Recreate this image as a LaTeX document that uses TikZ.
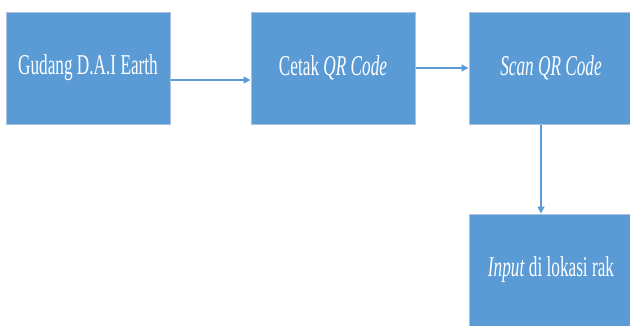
\documentclass[tikz,border=0pt]{standalone}
\usepackage{fontspec}
\setmainfont{Liberation Serif}[FakeStretch=0.6]
\usepackage{xcolor}
\usepackage{tikz}
\usetikzlibrary{positioning,arrows.meta}
\definecolor{boxblue}{HTML}{5B9BD5}
\definecolor{boxline}{HTML}{A9C1DE}

\begin{document}
\begin{tikzpicture}[x=1pt,y=-1pt,
    box/.style={draw=boxline, line width=1pt, fill=boxblue, text=white, minimum width=164pt, minimum height=112pt, inner sep=0pt, font=\fontsize{28.7}{30}\selectfont},
    arr/.style={draw=boxblue, line width=1.2pt, -{Triangle[length=7pt,width=7pt]}}]
    \useasboundingbox (0,0) rectangle (630,325);
    \node[box] (gudang) at (88,68) {Gudang D.A.I Earth};
    \node[box] (cetak) at (333,68) {Cetak \textit{QR Code}};
    \node[box] (scan) at (551,68) {\textit{Scan QR Code}};
    \node[box] (input) at (551,270) {\textit{Input} di lokasi rak};
    \draw[arr] ([yshift=-12pt]gudang.east) -- ([yshift=-12pt]cetak.west);
    \draw[arr] (cetak) -- (scan);
    \draw[arr] ([xshift=-10pt]scan.south) -- ([xshift=-10pt]input.north);
\end{tikzpicture}
\end{document}
